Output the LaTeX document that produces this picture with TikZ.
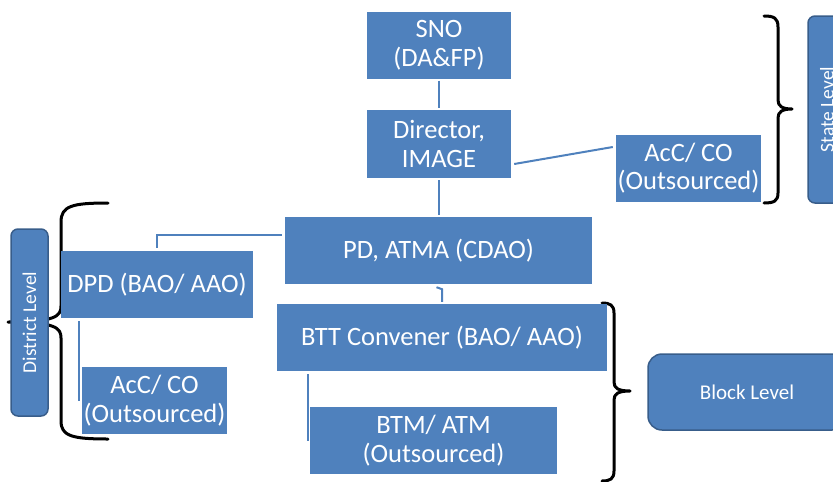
\documentclass[tikz,border=0pt]{standalone}
\usepackage{fontspec}
\setmainfont{Carlito}
\definecolor{boxblue}{HTML}{4F81BD}
\definecolor{edgeblue}{HTML}{385D8A}
\begin{document}
\begin{tikzpicture}[x=1pt,y=-1pt,
  box/.style={fill=boxblue,text=white,inner sep=0pt,align=center,
    font=\fontsize{26.5}{28.5}\selectfont},
  level/.style={fill=boxblue,draw=edgeblue,line width=1.5pt,text=white,inner sep=0pt,
    align=center,rounded corners=7pt,font=\fontsize{19.5}{22}\selectfont},
  conn/.style={draw=boxblue,line width=2pt},
  brace/.style={draw=black,line width=3pt,line cap=round,line join=round}]
\useasboundingbox (0,0) rectangle (833,482);
% braces (drawn first so boxes sit on top)
\draw[brace] (764,16) .. controls (774,16) and (778,18) .. (778,27) -- (778,100)
  .. controls (778,106) and (782,109) .. (792,109)
  .. controls (782,109) and (778,112) .. (778,118) -- (778,193)
  .. controls (778,201) and (774,203) .. (764,203);
\draw[brace] (602,303) .. controls (610,303) and (614,305) .. (614,313) -- (614,382)
  .. controls (614,388) and (618,391) .. (630,391)
  .. controls (618,391) and (614,394) .. (614,400) -- (614,471)
  .. controls (614,479) and (610,481) .. (602,481);
\draw[brace] (108,203) .. controls (72,203) and (61,206) .. (61,222) -- (61,306)
  .. controls (61,316) and (56,322) .. (8,322)
  .. controls (56,322) and (61,328) .. (61,338) -- (61,421)
  .. controls (61,436) and (72,439) .. (108,439);
% level boxes
\node[level,minimum width=38pt,minimum height=187pt] (stl) at (827,109.5)
  {\rotatebox{90}{State Level}};
\node[level,minimum width=37pt,minimum height=187pt] (dsl) at (29.5,322.5)
  {\rotatebox{90}{District Level}};
\node[level,rounded corners=14pt,minimum width=198pt,minimum height=76pt,
  font=\fontsize{21}{23}\selectfont] (bkl) at (747,392) {Block Level};
% main boxes
\node[box,minimum width=144pt,minimum height=67pt] (sno) at (439,45) {SNO\\(DA\&FP)};
\node[box,minimum width=144pt,minimum height=68pt] (dir) at (439,144) {Director,\\IMAGE};
\node[box,minimum width=307pt,minimum height=67pt] (pd) at (438.5,250.5) {PD, ATMA (CDAO)};
\node[box,minimum width=145pt,minimum height=67pt] (accs) at (688.5,168) {AcC/ CO\\(Outsourced)};
\node[box,minimum width=192pt,minimum height=67pt] (dpd) at (157,284.5) {DPD (BAO/ AAO)};
\node[box,minimum width=145pt,minimum height=67pt] (accd) at (154.5,400.5) {AcC/ CO\\(Outsourced)};
\node[box,minimum width=330pt,minimum height=67pt] (btt) at (442,337.5) {BTT Convener (BAO/ AAO)};
\node[box,minimum width=247pt,minimum height=67pt] (btm) at (433.5,440.5) {BTM/ ATM\\(Outsourced)};
% connectors
\draw[conn] ([yshift=-2pt]sno.south) -- ([yshift=2pt]dir.north);
\draw[conn] ([yshift=-2pt]dir.south) -- ([yshift=2pt]dir.south |- pd.north);
\draw[conn] ([xshift=3pt,yshift=-20pt]dir.east) -- ([xshift=-3pt,yshift=21pt]accs.west);
\draw[conn] ([xshift=-3pt,yshift=16pt]pd.west) -| ([yshift=3pt]dpd.north);
\draw[conn] ([xshift=18pt,yshift=-3pt]dpd.south west) -- ([xshift=-3pt]accd.west);
\draw[conn] ([xshift=-2pt,yshift=-3pt]pd.south) -- ([yshift=-5pt]btt.north |- pd.south) -- ([yshift=2pt]btt.north);
\draw[conn] ([xshift=31pt,yshift=-3pt]btt.south west) -- ([xshift=-2pt]btm.west);
\end{tikzpicture}
\end{document}
